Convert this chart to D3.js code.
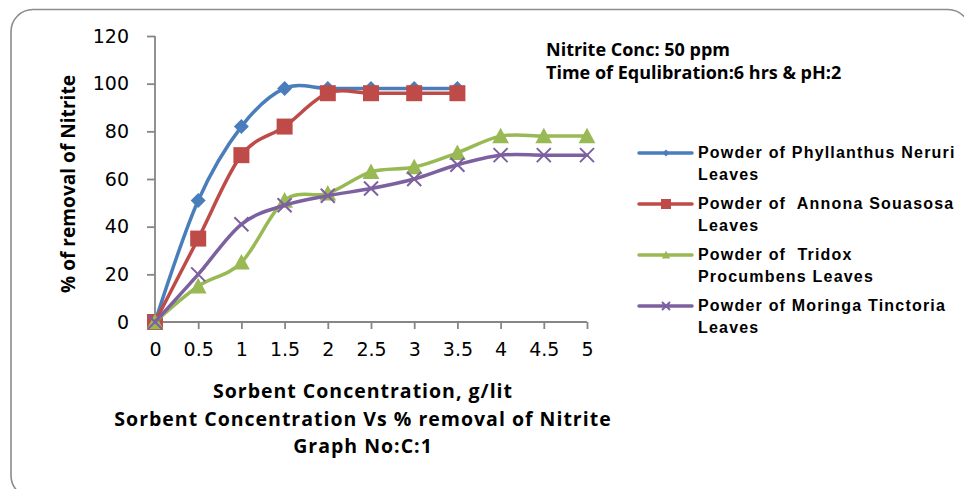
<!DOCTYPE html>
<html>
<head>
<meta charset="utf-8">
<script src="https://cdn.jsdelivr.net/npm/d3@7/dist/d3.min.js"></script>
<style>
  html, body { margin: 0; padding: 0; background: #fff; }
  svg { display: block; }
</style>
</head>
<body>
<svg id="chart" width="964" height="489"></svg>
<script>
// ---- data ----
const xValues = [0, 0.5, 1, 1.5, 2, 2.5, 3, 3.5, 4, 4.5, 5];
const xTickLabels = ["0", "0.5", "1", "1.5", "2", "2.5", "3", "3.5", "4", "4.5", "5"];
const yTicks = [0, 20, 40, 60, 80, 100, 120];
const seriesNames = [
  ["Powder of Phyllanthus Neruri", "Leaves"],
  ["Powder of  Annona Souasosa", "Leaves"],
  ["Powder of  Tridox", "Procumbens Leaves"],
  ["Powder of Moringa Tinctoria", "Leaves"]
];
const phyllanthus = [0, 51, 82, 98, 98, 98, 98, 98];
const annona = [0, 35, 70, 82, 96, 96, 96, 96];
const tridox = [0, 15, 25, 51, 54, 63, 65, 71, 78, 78, 78];
const moringa = [0, 20, 41, 49, 53, 56, 60, 66, 70, 70, 70];
const seriesValues = [phyllanthus, annona, tridox, moringa];
const colors = ["#4a7ebb", "#be4b48", "#98b954", "#7d60a0"];
const markers = ["diamond", "square", "triangle", "cross"];
const noteLines = ["Nitrite Conc: 50 ppm", "Time of Equlibration:6 hrs & pH:2"];
const xTitle = ["Sorbent Concentration, g/lit", "Sorbent Concentration Vs % removal of Nitrite", "Graph No:C:1"];
const yTitle = "% of removal of Nitrite";

// ---- layout ----
const svg = d3.select("#chart");
const plot = { left: 155, right: 587, top: 36, bottom: 322 };
const x = d3.scaleLinear().domain([0, 5]).range([plot.left, plot.right]);
const y = d3.scaleLinear().domain([0, 120]).range([plot.bottom, plot.top]);

// outer frame
svg.append("rect")
  .attr("x", 11).attr("y", 9.5).attr("width", 959).attr("height", 488)
  .attr("rx", 22).attr("ry", 22)
  .attr("fill", "none").attr("stroke", "#8c8c8c").attr("stroke-width", 1.6);

// axes
const axisColor = "#868686";
const yAxis = svg.append("g").attr("transform", `translate(${plot.left},0)`)
  .call(d3.axisLeft(y).tickValues(yTicks).tickSize(8).tickPadding(18).tickFormat(d3.format("d")));
const xAxis = svg.append("g").attr("transform", `translate(0,${plot.bottom})`)
  .call(d3.axisBottom(x).tickValues(xValues).tickSize(7).tickPadding(14)
    .tickFormat((d, i) => xTickLabels[i]));
[xAxis, yAxis].forEach(g => {
  g.selectAll("path.domain").attr("stroke", axisColor).attr("stroke-width", 1.8);
  g.selectAll(".tick line").attr("stroke", axisColor).attr("stroke-width", 1.8);
  g.selectAll(".tick text").attr("fill", "#000")
    .style("font-family", "'DejaVu Sans', sans-serif").style("font-size", "19px");
});
xAxis.selectAll("path.domain").attr("d", `M${plot.left},0H${plot.right}`);
yAxis.selectAll("path.domain").attr("d", `M0,${plot.bottom}V${plot.top}`);

// marker drawing
function drawMarker(g, type, cx, cy, color, s) {
  if (type === "diamond") {
    g.append("path").attr("d", `M${cx},${cy - s}L${cx + s},${cy}L${cx},${cy + s}L${cx - s},${cy}Z`)
      .attr("fill", color);
  } else if (type === "square") {
    g.append("rect").attr("x", cx - s).attr("y", cy - s).attr("width", 2 * s).attr("height", 2 * s)
      .attr("fill", color);
  } else if (type === "triangle") {
    g.append("path").attr("d", `M${cx},${cy - s * 1.05}L${cx + s * 1.05},${cy + s * 0.9}L${cx - s * 1.05},${cy + s * 0.9}Z`)
      .attr("fill", color);
  } else {
    g.append("path").attr("d", `M${cx - s},${cy - s}L${cx + s},${cy + s}M${cx - s},${cy + s}L${cx + s},${cy - s}`)
      .attr("stroke", color).attr("stroke-width", 2).attr("fill", "none");
  }
}

// series
const line = d3.line().x(d => x(d[0])).y(d => y(d[1])).curve(d3.curveCatmullRom.alpha(0));
const markerSizes = [7.5, 8, 8, 7];
seriesValues.forEach((vals, i) => {
  const pts = vals.map((v, j) => [xValues[j], v]);
  const g = svg.append("g");
  g.append("path").datum(pts).attr("d", line)
    .attr("fill", "none").attr("stroke", colors[i]).attr("stroke-width", 3.5)
    .attr("stroke-linejoin", "round").attr("stroke-linecap", "round");
  pts.forEach(p => drawMarker(g, markers[i], x(p[0]), y(p[1]), colors[i], markerSizes[i]));
});

// legend
const legend = svg.append("g");
const legendY = [153, 204, 255, 306];
seriesNames.forEach((lines, i) => {
  const ly = legendY[i];
  legend.append("line").attr("x1", 639).attr("x2", 692).attr("y1", ly).attr("y2", ly)
    .attr("stroke", colors[i]).attr("stroke-width", 3.5).attr("stroke-linecap", "round");
  drawMarker(legend, markers[i], 666, ly, colors[i], [3.5, 5, 4, 4][i]);
  lines.forEach((t, k) => {
    legend.append("text").attr("x", 698).attr("y", ly + 5 + k * 22)
      .attr("xml:space", "preserve")
      .style("font-family", "'Liberation Sans', sans-serif").style("font-size", "16px")
      .style("font-weight", "bold").style("letter-spacing", "1.2px")
      .text(t);
  });
});

// note
noteLines.forEach((t, k) => {
  svg.append("text").attr("x", 546).attr("y", 56 + k * 23)
    .style("font-family", "'Open Sans', sans-serif").style("font-size", "18px")
    .style("font-weight", "bold").text(t);
});

// x title
xTitle.forEach((t, k) => {
  svg.append("text").attr("x", 363).attr("y", 398 + k * 27.5).attr("text-anchor", "middle")
    .style("font-family", "'Open Sans', sans-serif").style("font-size", "19.5px")
    .style("font-weight", "bold").style("letter-spacing", "1px").text(t);
});

// y title
svg.append("text").attr("transform", "translate(75,184) rotate(-90)").attr("text-anchor", "middle")
  .attr("textLength", 218).attr("lengthAdjust", "spacingAndGlyphs")
  .style("font-family", "'Open Sans', sans-serif").style("font-size", "19px")
  .style("font-weight", "bold").text(yTitle);
</script>
</body>
</html>
